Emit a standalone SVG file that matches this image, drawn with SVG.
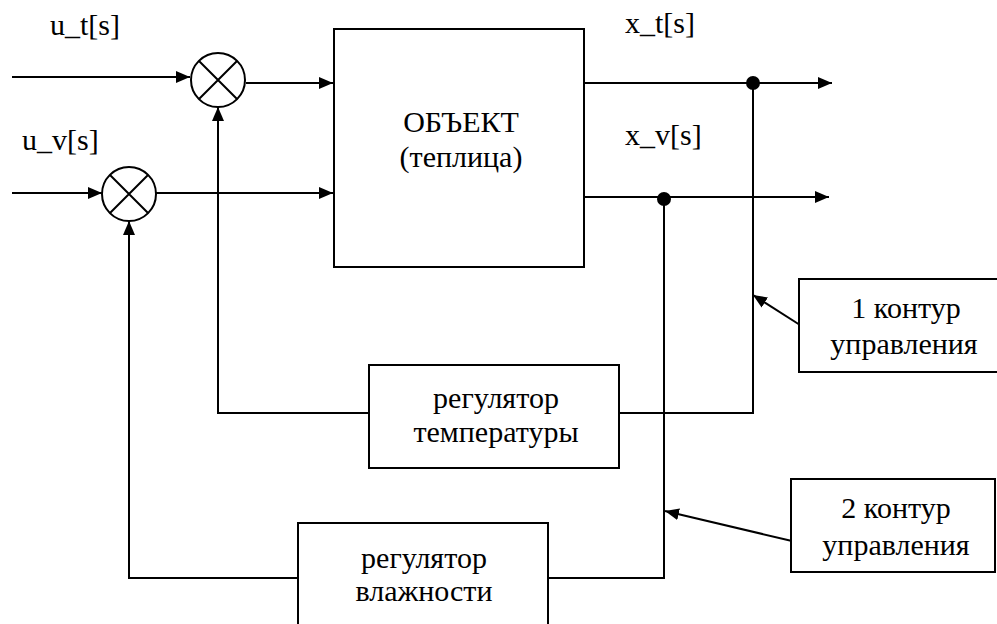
<svg xmlns="http://www.w3.org/2000/svg" width="997" height="624" viewBox="0 0 997 624">
<style>
.ln{fill:none;stroke:#000;stroke-width:2}
.bx{fill:#fff;stroke:#000;stroke-width:2}
text{font-family:'Liberation Serif','Times New Roman',serif;font-size:30px;fill:#000}
.c{text-anchor:middle}
</style>
<defs>
<marker id="ah" markerWidth="14" markerHeight="12" refX="14" refY="6" orient="auto" markerUnits="userSpaceOnUse">
<path d="M0,0 L14,6 L0,12 Z" fill="#000"/>
</marker>
</defs>
<rect width="997" height="624" fill="#fff"/>
<g id="connectors">
<path class="ln" d="M12,77 L190,77" marker-end="url(#ah)"/>
<path class="ln" d="M12,193 L102,193" marker-end="url(#ah)"/>
<path class="ln" d="M246,83 L333,83" marker-end="url(#ah)"/>
<path class="ln" d="M156,193 L333,193" marker-end="url(#ah)"/>
<path class="ln" d="M584,83 L832,83" marker-end="url(#ah)"/>
<path class="ln" d="M580,197 L829,197" marker-end="url(#ah)"/>
<path class="ln" d="M619,413 L753,413 L753,83"/>
<path class="ln" d="M369,413 L218,413 L218,107" marker-end="url(#ah)"/>
<path class="ln" d="M548,578 L664,578 L664,199"/>
<path class="ln" d="M298,578 L129,578 L129,221" marker-end="url(#ah)"/>
<path class="ln" d="M800,325 L753,295" marker-end="url(#ah)"/>
<path class="ln" d="M792,541 L665,511" marker-end="url(#ah)"/>
<circle cx="753" cy="83" r="7" fill="#000"/>
<circle cx="664" cy="199" r="7" fill="#000"/>
</g>
<g id="sum1">
<circle class="bx" cx="218" cy="80" r="27"/>
<path class="ln" d="M199,61 L237,99 M237,61 L199,99"/>
</g>
<g id="sum2">
<circle class="bx" cx="129" cy="194" r="27"/>
<path class="ln" d="M110,175 L148,213 M148,175 L110,213"/>
</g>
<g id="labels">
<text x="50" y="35">u_t[s]</text>
<text x="22" y="150">u_v[s]</text>
<text x="625" y="33">x_t[s]</text>
<text x="625" y="145">x_v[s]</text>
</g>
<g id="object">
<rect class="bx" x="334" y="29" width="250" height="238"/>
<text class="c" x="461" y="132">ОБЪЕКТ</text>
<text class="c" x="461" y="167">(теплица)</text>
</g>
<g id="reg-temp">
<rect class="bx" x="369" y="365" width="250" height="103"/>
<text class="c" x="496" y="408">регулятор</text>
<text class="c" x="496" y="442">температуры</text>
</g>
<g id="reg-hum">
<rect class="bx" x="298" y="523" width="250" height="110"/>
<text class="c" x="424" y="568">регулятор</text>
<text class="c" x="424" y="601">влажности</text>
</g>
<g id="loop1">
<rect class="bx" x="799" y="279" width="210" height="93"/>
<text class="c" x="906" y="318">1 контур</text>
<text class="c" x="904" y="354">управления</text>
</g>
<g id="loop2">
<rect class="bx" x="791" y="479" width="204" height="93"/>
<text class="c" x="896" y="518">2 контур</text>
<text class="c" x="896" y="555">управления</text>
</g>
</svg>
